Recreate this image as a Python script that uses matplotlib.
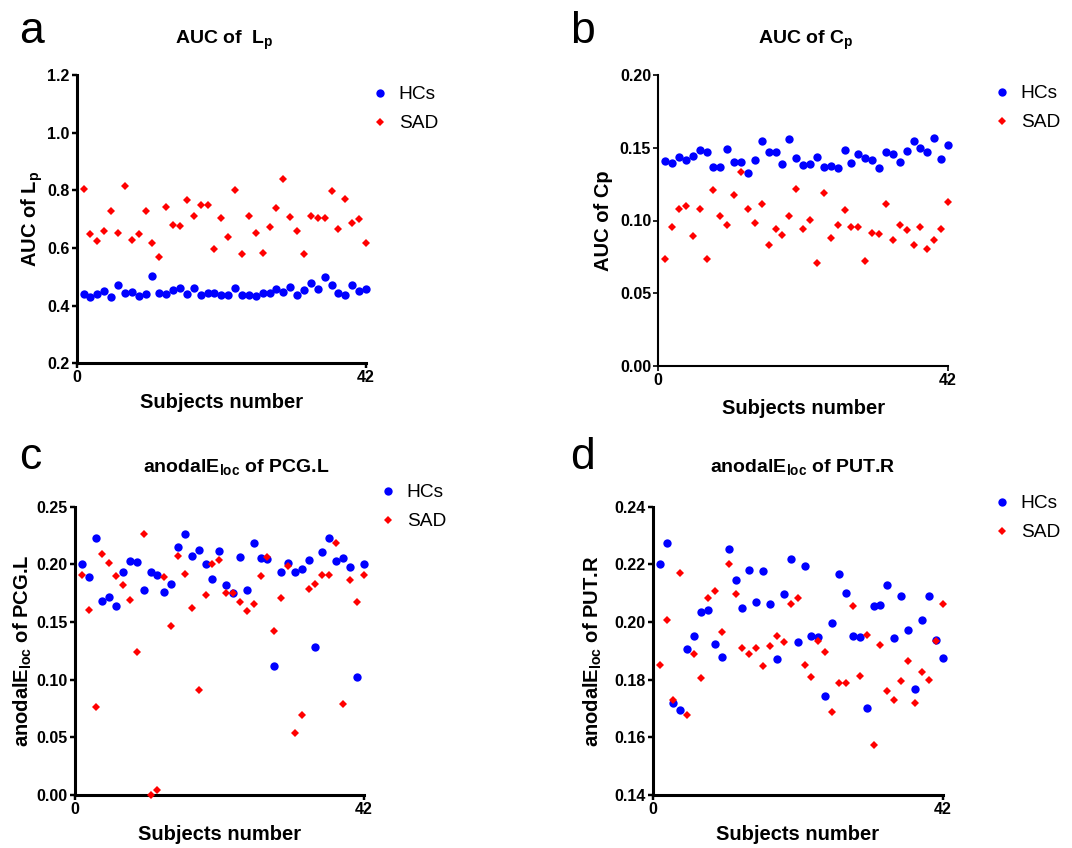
import numpy as np
import matplotlib
matplotlib.use("Agg")
import matplotlib.pyplot as plt

plt.rcParams['font.family'] = ['Liberation Sans', 'DejaVu Sans']
plt.rcParams['mathtext.fontset'] = 'custom'
plt.rcParams['mathtext.rm'] = 'Liberation Sans:bold'
plt.rcParams['mathtext.bf'] = 'Liberation Sans:bold'
plt.rcParams['mathtext.it'] = 'Liberation Sans:bold'

subjects = np.arange(1, 43)

# Panel a: AUC of Lp
a_hcs = [0.440, 0.431, 0.440, 0.452, 0.429, 0.471, 0.445, 0.446, 0.435, 0.440,
         0.503, 0.443, 0.440, 0.455, 0.460, 0.440, 0.461, 0.436, 0.443, 0.443,
         0.436, 0.438, 0.461, 0.438, 0.438, 0.434, 0.443, 0.443, 0.457, 0.447,
         0.466, 0.436, 0.454, 0.480, 0.459, 0.498, 0.473, 0.445, 0.436, 0.471,
         0.450, 0.457]
a_sad = [0.805, 0.647, 0.625, 0.660, 0.728, 0.653, 0.814, 0.628, 0.647, 0.729,
         0.616, 0.569, 0.741, 0.681, 0.675, 0.766, 0.710, 0.749, 0.750, 0.597,
         0.704, 0.637, 0.802, 0.578, 0.710, 0.651, 0.582, 0.674, 0.738, 0.840,
         0.708, 0.660, 0.580, 0.712, 0.704, 0.704, 0.799, 0.665, 0.771, 0.686,
         0.702, 0.616]

# Panel b: AUC of Cp
b_hcs = [0.1409, 0.1398, 0.1434, 0.1414, 0.1446, 0.1487, 0.1474, 0.1370, 0.1370, 0.1494,
         0.1400, 0.1400, 0.1326, 0.1418, 0.1543, 0.1471, 0.1474, 0.1389, 0.1563, 0.1432,
         0.1384, 0.1391, 0.1434, 0.1366, 0.1377, 0.1363, 0.1483, 0.1395, 0.1457, 0.1428,
         0.1418, 0.1359, 0.1474, 0.1460, 0.1400, 0.1476, 0.1543, 0.1497, 0.1471, 0.1568,
         0.1423, 0.1520]
b_sad = [0.0736, 0.0956, 0.1076, 0.1099, 0.0892, 0.1080, 0.0736, 0.1211, 0.1028, 0.0970,
         0.1175, 0.1333, 0.1076, 0.0982, 0.1113, 0.0832, 0.0943, 0.0903, 0.1030, 0.1216,
         0.0940, 0.1002, 0.0708, 0.1189, 0.0878, 0.0970, 0.1071, 0.0956, 0.0954, 0.0722,
         0.0915, 0.0908, 0.1110, 0.0869, 0.0966, 0.0933, 0.0830, 0.0954, 0.0805, 0.0864,
         0.0940, 0.1124]

# Panel c: anodalE_loc of PCG.L
c_hcs = [0.2006, 0.1894, 0.2227, 0.1678, 0.1716, 0.1638, 0.1934, 0.2032, 0.2017, 0.1776,
         0.1937, 0.1905, 0.1759, 0.1828, 0.2149, 0.2264, 0.2069, 0.2126, 0.2003, 0.1874,
         0.2112, 0.1822, 0.1753, 0.2060, 0.1779, 0.2181, 0.2052, 0.2043, 0.1118, 0.1937,
         0.2011, 0.1937, 0.1957, 0.2040, 0.1284, 0.2109, 0.2227, 0.2032, 0.2052, 0.1974,
         0.1020, 0.2000]
c_sad = [0.1908, 0.1606, 0.0767, 0.2089, 0.2009, 0.1902, 0.1825, 0.1695, 0.1236, 0.2261,
         0.0000, 0.0040, 0.1891, 0.1463, 0.2075, 0.1917, 0.1624, 0.0914, 0.1733, 0.2003,
         0.2037, 0.1753, 0.1750, 0.1672, 0.1598, 0.1658, 0.1897, 0.2066, 0.1425, 0.1707,
         0.1983, 0.0537, 0.0695, 0.1790, 0.1830, 0.1908, 0.1908, 0.2184, 0.0790, 0.1868,
         0.1675, 0.1908]

# Panel d: anodalE_loc of PUT.R
d_hcs = [0.2200, 0.2274, 0.1719, 0.1695, 0.1906, 0.1950, 0.2036, 0.2042, 0.1924, 0.1879,
         0.2254, 0.2147, 0.2048, 0.2179, 0.2071, 0.2177, 0.2063, 0.1872, 0.2097, 0.2219,
         0.1929, 0.2196, 0.1951, 0.1949, 0.1744, 0.1997, 0.2167, 0.2102, 0.1951, 0.1948,
         0.1701, 0.2055, 0.2060, 0.2130, 0.1944, 0.2090, 0.1972, 0.1766, 0.2006, 0.2091,
         0.1939, 0.1875]
d_sad = [0.1850, 0.2008, 0.1729, 0.2169, 0.1678, 0.1889, 0.1806, 0.2083, 0.2109, 0.1964,
         0.2200, 0.2097, 0.1911, 0.1889, 0.1910, 0.1849, 0.1917, 0.1952, 0.1929, 0.2062,
         0.2085, 0.1851, 0.1811, 0.1935, 0.1896, 0.1688, 0.1789, 0.1789, 0.2056, 0.1814,
         0.1954, 0.1573, 0.1919, 0.1762, 0.1728, 0.1797, 0.1864, 0.1718, 0.1826, 0.1800,
         0.1935, 0.2062]

W, H = 1072, 848
fig = plt.figure(figsize=(W / 100, H / 100), dpi=100)

def px_rect(l, r, t, b):
    return [l / W, 1 - b / H, (r - l) / W, (b - t) / H]

panels = [
    dict(letter='a', rect=(76.7, 366, 75, 363.3), hcs=a_hcs, sad=a_sad,
         ylim=(0.2, 1.2), yticks=[0.2, 0.4, 0.6, 0.8, 1.0, 1.2], fmt='{:.1f}',
         title='AUC of  L$_{\\mathrm{p}}$', title_x=224, title_y=44,
         ylabel='AUC of L$_{\\mathrm{p}}$', ylab_x=45, xlab_top=393,
         lw=2.2, letter_xy=(19, 43), leg_xy=(370, 86)),
    dict(letter='b', rect=(658.3, 948, 75, 366), hcs=b_hcs, sad=b_sad,
         ylim=(0.0, 0.2), yticks=[0.0, 0.05, 0.10, 0.15, 0.20], fmt='{:.2f}',
         title='AUC of C$_{\\mathrm{p}}$', title_x=806, title_y=44,
         ylabel='AUC of Cp', ylab_x=613, xlab_top=399,
         lw=1.5, letter_xy=(570, 43), leg_xy=(992, 85)),
    dict(letter='c', rect=(75, 363.6, 506.7, 795), hcs=c_hcs, sad=c_sad,
         ylim=(0.0, 0.25), yticks=[0.0, 0.05, 0.10, 0.15, 0.20, 0.25], fmt='{:.2f}',
         title='anodalE$_{\\mathrm{loc}}$ of PCG.L', title_x=236, title_y=472,
         ylabel='anodalE$_{\\mathrm{loc}}$ of PCG.L', ylab_x=34, xlab_top=825,
         lw=2.2, letter_xy=(19, 469), leg_xy=(378, 484)),
    dict(letter='d', rect=(652.7, 942.5, 506.7, 795), hcs=d_hcs, sad=d_sad,
         ylim=(0.14, 0.24), yticks=[0.14, 0.16, 0.18, 0.20, 0.22, 0.24], fmt='{:.2f}',
         title='anodalE$_{\\mathrm{loc}}$ of PUT.R', title_x=803, title_y=472,
         ylabel='anodalE$_{\\mathrm{loc}}$ of PUT.R', ylab_x=604, xlab_top=825,
         lw=2.2, letter_xy=(570, 469), leg_xy=(992, 495)),
]

blue = '#0000FF'
red = '#FF0000'

for p in panels:
    l, r, t, b = p['rect']
    ax = fig.add_axes(px_rect(l, r, t, b))
    ax.plot(subjects, p['hcs'], linestyle='none', marker='o', markersize=6.0,
            color=blue, markeredgewidth=0, label='HCs', zorder=3, clip_on=False)
    ax.plot(subjects, p['sad'], linestyle='none', marker='D', markersize=4.0,
            color=red, markeredgewidth=0, label='SAD', zorder=4, clip_on=False)
    ax.set_xlim(0, 42)
    ax.set_ylim(*p['ylim'])
    ax.set_xticks([0, 42])
    ax.set_xticklabels(['0', '42'])
    ax.set_yticks(p['yticks'])
    ax.set_yticklabels([p['fmt'].format(v) for v in p['yticks']])
    for s in ['top', 'right']:
        ax.spines[s].set_visible(False)
    for s in ['left', 'bottom']:
        ax.spines[s].set_linewidth(p['lw'])
        ax.spines[s].set_color('black')
    ax.tick_params(axis='both', direction='out', length=3.6, width=p['lw'] * 0.8,
                   labelsize=11.5, pad=1.5)
    for lab in ax.get_xticklabels() + ax.get_yticklabels():
        lab.set_fontweight('bold')
    width_px = r - l
    height_px = b - t
    ax.set_ylabel(p['ylabel'], fontsize=14.5, fontweight='bold')
    ax.yaxis.set_label_coords((p['ylab_x'] - l) / width_px, 0.5)
    ax.set_xlabel('Subjects number', fontsize=14.5, fontweight='bold', va='top')
    ax.xaxis.set_label_coords(0.5, -(p['xlab_top'] - b) / height_px)
    fig.text(p['title_x'] / W, 1 - p['title_y'] / H, p['title'], fontsize=14,
             fontweight='bold', ha='center', va='baseline')
    fig.text(p['letter_xy'][0] / W, 1 - p['letter_xy'][1] / H, p['letter'],
             fontsize=32, ha='left', va='baseline')
    ax.legend(loc='upper left', bbox_to_anchor=(p['leg_xy'][0] / W, 1 - p['leg_xy'][1] / H),
              bbox_transform=fig.transFigure, frameon=False, fontsize=13.8,
              borderpad=0, borderaxespad=0, handlelength=1.0, handletextpad=0.5,
              labelspacing=0.6, numpoints=1)

fig.savefig('out.png', dpi=100)
